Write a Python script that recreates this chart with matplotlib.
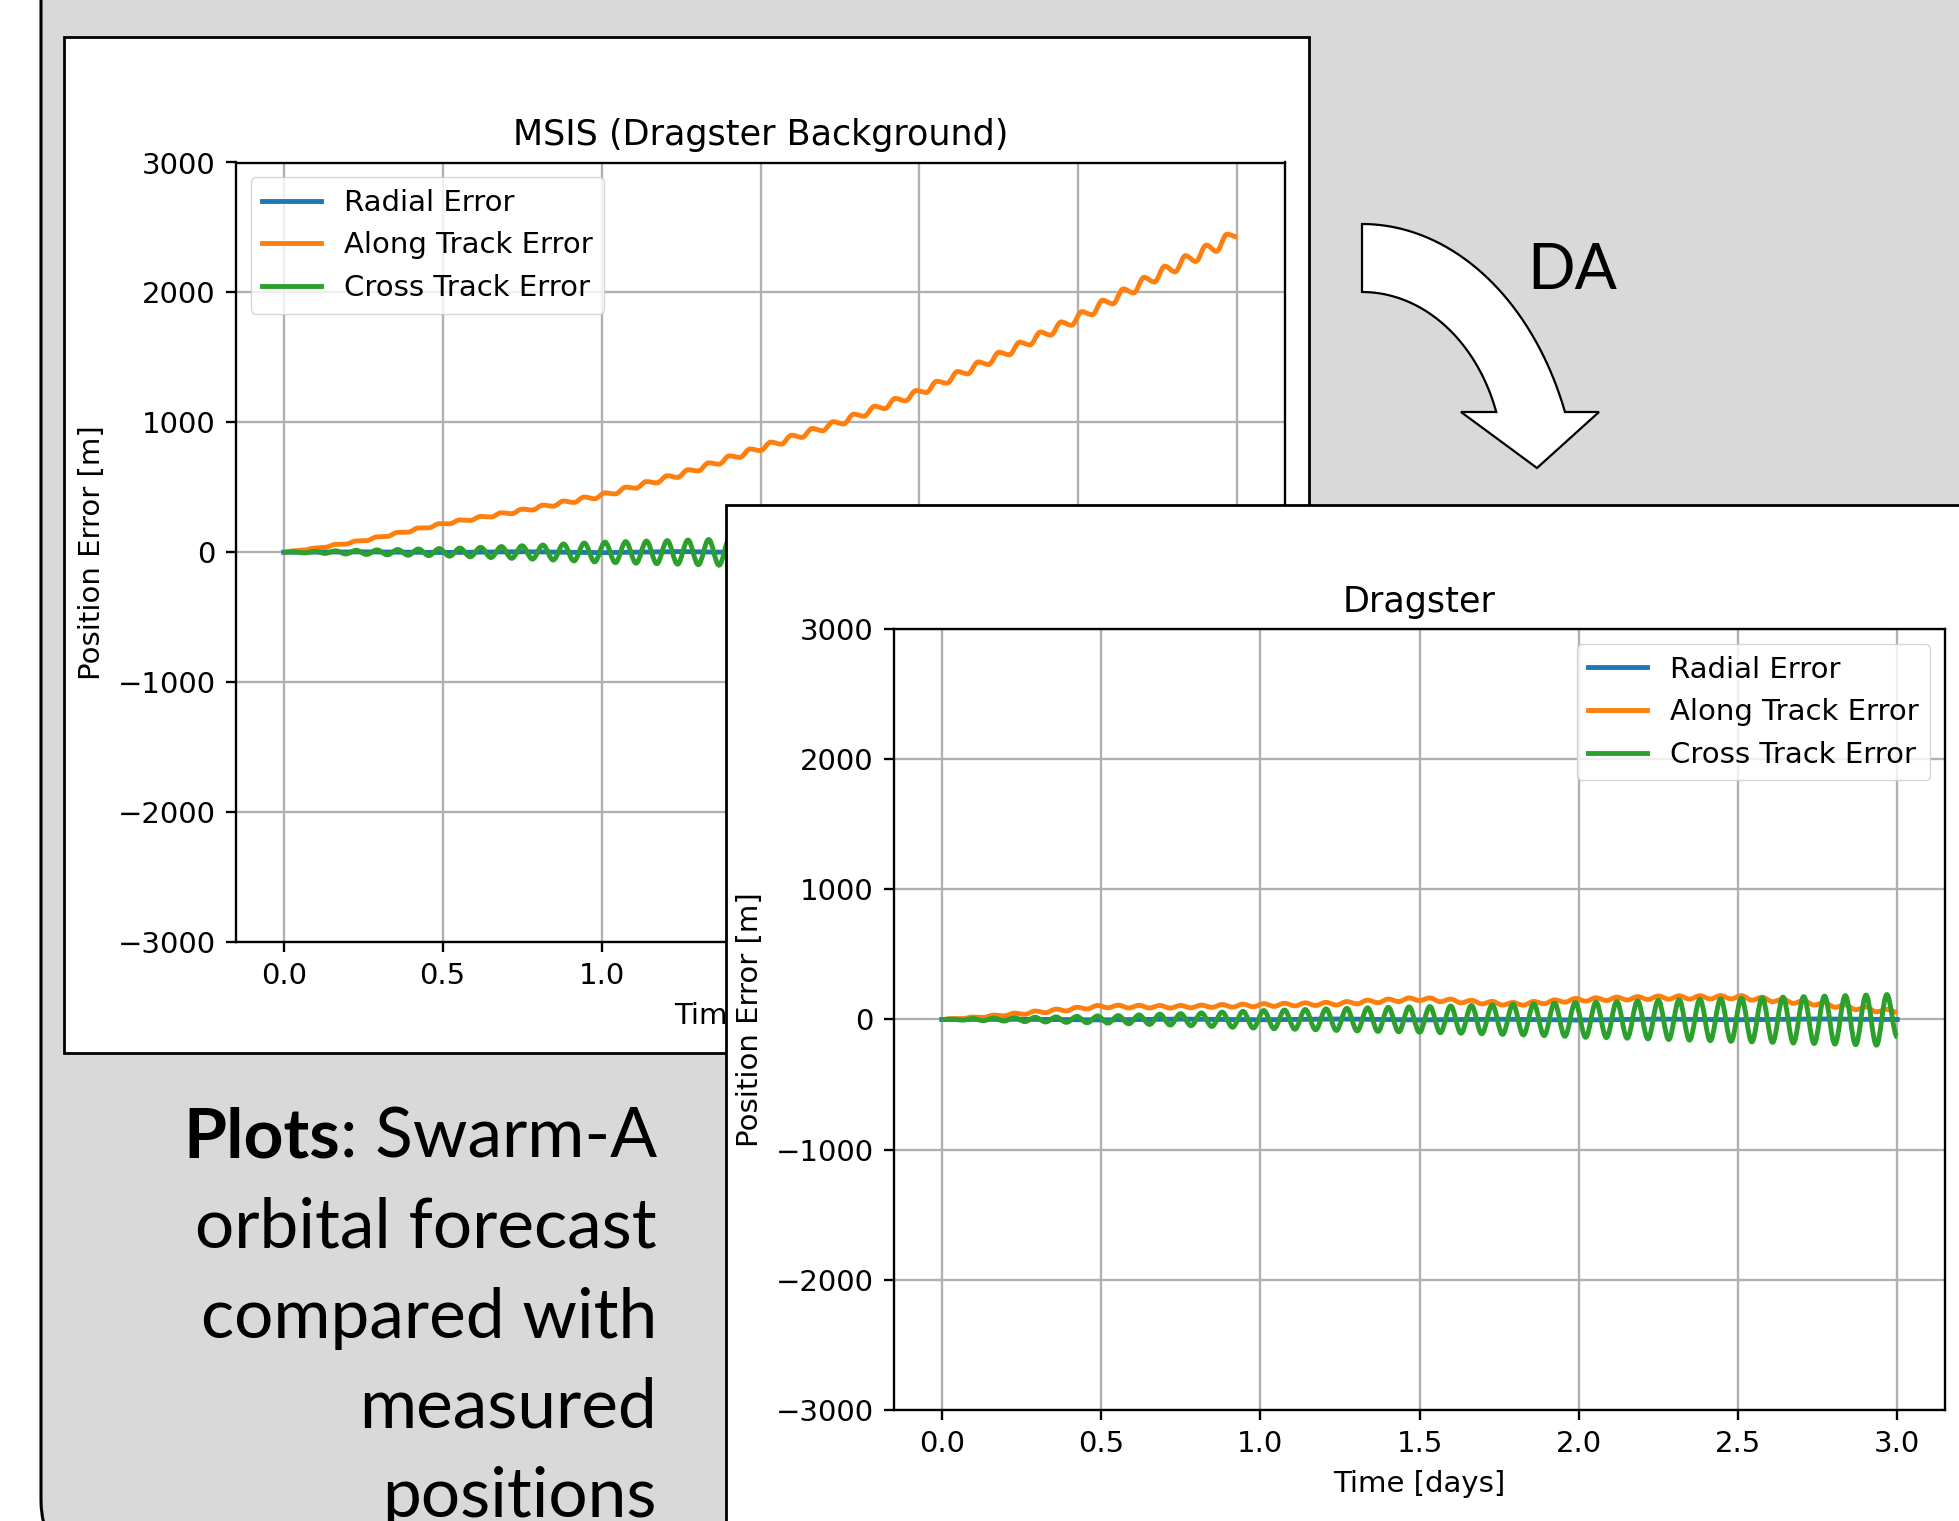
import numpy as np
import matplotlib
matplotlib.use("Agg")
import matplotlib.pyplot as plt
from matplotlib.patches import FancyBboxPatch, Rectangle, PathPatch
from matplotlib.path import Path
from matplotlib.transforms import Affine2D

# ---------------- data ----------------
# sample times of the orbital extremes (about half an orbit apart), days
orbit_times = np.linspace(0.0, 3.0, 93)
coarse_times = [0.0, 0.25, 0.5, 0.75, 1.0, 1.25, 1.5, 1.75, 2.0, 2.25, 2.5, 2.75, 3.0]

msis_radial = [0, 3, -2, 4, -3, 5, -4, 3, -5, 4, -6, 5, -3]
msis_along = [0, 11, 18, 32, 38, 60, 63, 87, 90, 118,
              122, 153, 155, 187, 188, 220, 219, 249, 245, 276,
              271, 304, 297, 332, 325, 363, 354, 394, 383, 425,
              412, 457, 449, 501, 493, 544, 534, 589, 576, 635,
              626, 688, 678, 742, 730, 795, 782, 848, 832, 901,
              884, 953, 935, 1005, 987, 1063, 1047, 1124, 1106, 1184,
              1165, 1245, 1230, 1316, 1301, 1391, 1373, 1465, 1445, 1539,
              1520, 1617, 1596, 1695, 1671, 1773, 1747, 1852, 1828, 1940,
              1912, 2027, 1996, 2116, 2080, 2202, 2158, 2283, 2238, 2364,
              2316, 2448, 2428]
msis_cross = [0, 3, -5, 7, -9, 11, -13, 15, -17, 18,
              -20, 21, -23, 25, -26, 28, -30, 32, -35, 38,
              -41, 44, -47, 50, -53, 56, -60, 64, -67, 71,
              -74, 78, -80, 82, -84, 86, -88, 90, -92, 94,
              -96, 98, -100, 102, -104, 106, -107, 109, -111, 113,
              -115, 117, -119, 121, -123, 125, -127, 129, -131, 133,
              -135, 137, -139, 141, -143, 145, -147, 149, -151, 153,
              -155, 157, -159, 161, -163, 165, -167, 169, -171, 173,
              -175, 177, -179, 181, -183, 185, -187, 189, -191, 193,
              -195, 197, -150]

drag_radial = [0, 2, -3, 3, -2, 4, -3, 2, -4, 3, -2, 4, 0]
drag_along = [0, 7, 7, 19, 16, 34, 28, 49, 40, 65,
              53, 80, 66, 94, 81, 108, 90, 110, 89, 109,
              89, 108, 88, 108, 90, 111, 93, 115, 95, 118,
              98, 122, 101, 125, 105, 128, 108, 132, 111, 138,
              120, 149, 129, 157, 138, 166, 146, 166, 137, 157,
              128, 148, 120, 139, 111, 131, 110, 139, 121, 151,
              133, 162, 141, 167, 146, 172, 150, 176, 154, 181,
              156, 182, 157, 183, 158, 184, 159, 184, 149, 171,
              137, 158, 124, 146, 111, 131, 94, 113, 76, 96,
              59, 78, 55]
drag_cross = [0, 3, -5, 7, -9, 11, -12, 14, -16, 17,
              -19, 20, -22, 24, -25, 27, -28, 30, -33, 35,
              -38, 41, -43, 45, -48, 51, -54, 57, -60, 63,
              -66, 69, -71, 73, -75, 77, -79, 82, -84, 86,
              -88, 90, -92, 94, -95, 97, -98, 100, -102, 104,
              -106, 108, -110, 112, -115, 117, -119, 121, -124, 126,
              -129, 131, -137, 133, -139, 138, -144, 143, -149, 148,
              -154, 152, -159, 156, -163, 160, -168, 164, -172, 168,
              -176, 172, -181, 176, -185, 180, -189, 184, -194, 188,
              -198, 192, -135]

series_labels = ["Radial Error", "Along Track Error", "Cross Track Error"]
series_colors = ["C0", "C1", "C2"]
titles = ["MSIS (Dragster Background)", "Dragster"]
x_label = "Time [days]"
y_label = "Position Error [m]"
y_limits = (-3000, 3000)

note_bold = "Plots"
note_lines = [": Swarm-A", "orbital forecast", "compared with", "measured", "positions"]
arrow_text = "DA"

# ---------------- style ----------------
W, H = 1959, 1521
S = 2.1
LW = 3.5
plt.rcParams.update({
    "font.family": ["DejaVu Sans"],
    "font.size": 10 * S,
    "lines.linewidth": LW,
    "axes.linewidth": 0.8 * S,
    "grid.linewidth": 0.8 * S,
    "xtick.major.size": 3.5 * S, "ytick.major.size": 3.5 * S,
    "xtick.major.width": 0.8 * S, "ytick.major.width": 0.8 * S,
    "xtick.major.pad": 3.5 * S, "ytick.major.pad": 3.5 * S,
    "axes.titlepad": 6.0 * S,
    "axes.labelpad": 4.0 * S,
    "legend.edgecolor": "0.8",
})


def smooth_orbit_path(t, v):
    """Smooth curve through the orbital extremes (flat tangent at each extreme)."""
    verts = [(t[0], v[0])]
    codes = [Path.MOVETO]
    for i in range(len(t) - 1):
        h = t[i + 1] - t[i]
        verts += [(t[i] + 0.36 * h, v[i]), (t[i + 1] - 0.36 * h, v[i + 1]), (t[i + 1], v[i + 1])]
        codes += [Path.CURVE4] * 3
    return Path(verts, codes)


fig = plt.figure(figsize=(W / 100, H / 100), dpi=100, facecolor="white")
# pixel coordinates, origin top-left
px = Affine2D().scale(1.0 / W, -1.0 / H).translate(0, 1) + fig.transFigure

grey = "#d9d9d9"
panel = FancyBboxPatch((41, -100), 2100, 1660, boxstyle="round,pad=0,rounding_size=60",
                       transform=px, fc=grey, ec="black", lw=2.2, zorder=0)
fig.add_artist(panel)

box1 = Rectangle((64, 37), 1245, 1016, transform=px, fc="white", ec="black", lw=2.0, zorder=1)
fig.add_artist(box1)

# curved block arrow
outer_a, outer_b, outer_c = 218, 296, 520
inner_a, inner_b, inner_c = 142, 178, 470
head_y = 412
ang_o_end = np.arcsin((outer_c - head_y) / outer_b)
ang_i_end = np.arcsin((inner_c - head_y) / inner_b)
ao = np.linspace(np.pi / 2, ang_o_end, 40)
ai = np.linspace(ang_i_end, np.pi / 2, 40)
ox = 1362 + outer_a * np.cos(ao)
oy = outer_c - outer_b * np.sin(ao)
ix = 1362 + inner_a * np.cos(ai)
iy = inner_c - inner_b * np.sin(ai)
verts = list(zip(ox, oy)) + [(1599, head_y), (1537, 468), (1461, head_y)] + list(zip(ix, iy))
verts.append(verts[0])
codes = [Path.MOVETO] + [Path.LINETO] * (len(verts) - 2) + [Path.CLOSEPOLY]
arrow = PathPatch(Path(verts, codes), transform=px, fc="white", ec="black", lw=1.6, zorder=1)
fig.add_artist(arrow)

fig.text(1527 / W, 1 - 289 / H, arrow_text, fontsize=45, family=["Lato", "DejaVu Sans"],
         ha="left", va="baseline", zorder=1)

# note text, right aligned
right_x = 657 / W
baselines = [1158, 1248, 1338, 1427, 1517]
note_fs = 50
note_texts = []
for line, yb in zip(note_lines, baselines):
    note_texts.append(fig.text(right_x, 1 - yb / H, line, fontsize=note_fs,
                               family=["Lato", "DejaVu Sans"], ha="right", va="baseline", zorder=1))

box2 = Rectangle((725.5, 504.6), 1400, 1200, transform=px, fc="white", ec="black", lw=2.0, zorder=3)
fig.add_artist(box2)

ax1 = fig.add_axes([236 / W, 1 - 942 / H, 1049 / W, 779.5 / H], zorder=2)
ax2 = fig.add_axes([894 / W, 1 - 1409.6 / H, 1051 / W, 780.2 / H], zorder=4)

for ax, rad, alo, cro, title, loc in [
        (ax1, msis_radial, msis_along, msis_cross, titles[0], "upper left"),
        (ax2, drag_radial, drag_along, drag_cross, titles[1], "upper right")]:
    ax.plot(coarse_times, rad, color=series_colors[0], label=series_labels[0])
    for vals, col, lab, z in [(alo, series_colors[1], series_labels[1], 2.2),
                              (cro, series_colors[2], series_labels[2], 2.3)]:
        ax.add_patch(PathPatch(smooth_orbit_path(orbit_times, vals), facecolor="none",
                               edgecolor=col, lw=LW, joinstyle="round", capstyle="butt", zorder=z))
        ax.plot([], [], color=col, label=lab)
    ax.set_ylim(*y_limits)
    ax.set_title(title)
    ax.set_xlabel(x_label)
    ax.set_ylabel(y_label)
    ax.grid(True)
    ax.legend(loc=loc)

# bold "Plots" placed just left of ": Swarm-A"
fig.canvas.draw()
renderer = fig.canvas.get_renderer()
bb = note_texts[0].get_window_extent(renderer=renderer)
fig.text(bb.x0 / W, 1 - baselines[0] / H, note_bold, fontsize=note_fs, fontweight="bold",
         family=["Lato", "DejaVu Sans"], ha="right", va="baseline", zorder=1)

fig.savefig("out.png", dpi=100, facecolor="white")
